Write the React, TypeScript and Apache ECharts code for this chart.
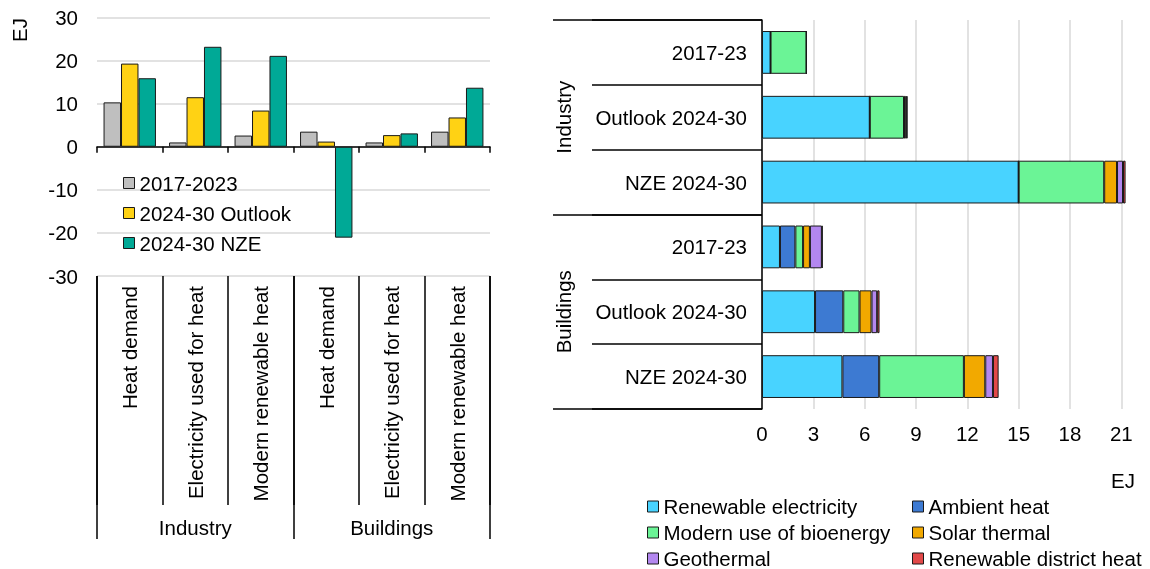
import React, { useEffect, useRef } from 'react';
import * as echarts from 'echarts';

// ---- Left chart data ----
const leftCategories = ['Heat demand', 'Electricity used for heat', 'Modern renewable heat', 'Heat demand', 'Electricity used for heat', 'Modern renewable heat'];
const leftGroups = ['Industry', 'Buildings'];
const leftYTicks = [-30, 30, 10]; // min, max, interval
const hist2017 = [10.3, 1.0, 2.6, 3.5, 1.0, 3.5];
const outlook2430 = [19.3, 11.5, 8.4, 1.2, 2.7, 6.8];
const nze2430 = [15.9, 23.2, 21.1, -21.1, 3.1, 13.7];
const leftSeriesNames = ['2017-2023', '2024-30 Outlook', '2024-30 NZE'];

// ---- Right chart data ----
const rightRows = ['2017-23', 'Outlook 2024-30', 'NZE 2024-30', '2017-23', 'Outlook 2024-30', 'NZE 2024-30'];
const rightGroups = ['Industry', 'Buildings'];
const rightXTicks = [0, 21, 3]; // min, max, interval
const renewElec = [0.5, 6.3, 15.0, 1.05, 3.1, 4.7];
const ambientHeat = [0, 0, 0, 0.9, 1.65, 2.15];
const bioenergy = [2.1, 2.0, 5.0, 0.45, 0.95, 4.95];
const solarThermal = [0, 0.1, 0.75, 0.4, 0.7, 1.25];
const geothermal = [0, 0.05, 0.35, 0.7, 0.33, 0.45];
const districtHeat = [0, 0.05, 0.15, 0.04, 0.14, 0.33];
const rightSeriesNames = ['Renewable electricity', 'Ambient heat', 'Modern use of bioenergy', 'Solar thermal', 'Geothermal', 'Renewable district heat'];

const FONT = "'Liberation Sans', Arial, Helvetica, sans-serif";
const FS = 20.5;
const txt = { fontFamily: FONT, fontSize: FS, color: '#000' };
const black = { color: '#000', width: 1.5 };
const gridLine = { color: '#d9d9d9', width: 1.5 };
const border = { borderColor: '#1a1a1a', borderWidth: 1 };

const leftColors = ['#bfbfbf', '#ffd214', '#00a996'];
const rightColors = ['#48d3ff', '#3d7ad2', '#6bf496', '#f2a900', '#b387ef', '#e24848'];

export default function App() {
  const ref = useRef<HTMLDivElement>(null);
  useEffect(() => {
    const chart = echarts.init(ref.current!, null, { renderer: 'svg' });
    const leftData = [hist2017, outlook2430, nze2430];
    const rightData = [renewElec, ambientHeat, bioenergy, solarThermal, geothermal, districtHeat];
    const legendBase = {
      orient: 'vertical', padding: 0, height: 90,
      itemWidth: 11, itemHeight: 11, icon: 'rect',
      itemStyle: border,
      textStyle: { ...txt, lineHeight: 21 },
    };
    const option: any = {
      animation: false,
      textStyle: { fontFamily: FONT },
      grid: [
        { left: 97, top: 17.5, width: 393, height: 258.5 },
        { left: 762, top: 20, width: 359.3, height: 389 },
      ],
      xAxis: [
        {
          gridIndex: 0, type: 'category', position: 'bottom', data: leftCategories,
          axisLine: { show: true, onZero: true, lineStyle: black },
          axisTick: { show: true, length: 6, interval: 0, lineStyle: black },
          axisLabel: { show: false }, splitLine: { show: false },
        },
        {
          gridIndex: 0, type: 'category', position: 'bottom', data: leftCategories,
          axisLine: { show: false, onZero: false },
          axisTick: { show: true, length: 229, interval: 0, lineStyle: black },
          axisLabel: { interval: 0, rotate: 90, margin: 10, ...txt },
          splitLine: { show: false },
        },
        {
          gridIndex: 0, type: 'category', position: 'bottom', data: leftGroups,
          axisLine: { show: false, onZero: false },
          axisTick: { show: true, length: 263, interval: 0, lineStyle: black },
          axisLabel: { interval: 0, margin: 241, ...txt },
          splitLine: { show: false },
        },
        {
          gridIndex: 1, type: 'value', position: 'bottom',
          min: rightXTicks[0], max: rightXTicks[1], interval: rightXTicks[2],
          axisLine: { show: false, onZero: false }, axisTick: { show: false },
          axisLabel: { margin: 14, ...txt },
          splitLine: { show: true, lineStyle: gridLine },
        },
      ],
      yAxis: [
        {
          gridIndex: 0, type: 'value', position: 'left',
          min: leftYTicks[0], max: leftYTicks[1], interval: leftYTicks[2],
          axisLine: { show: false }, axisTick: { show: false },
          axisLabel: { margin: 19, ...txt },
          splitLine: { show: true, lineStyle: gridLine },
        },
        {
          gridIndex: 1, type: 'category', position: 'left', inverse: true, data: rightRows,
          axisLine: { show: true, onZero: false, lineStyle: black },
          axisTick: { show: true, length: 170, interval: 0, lineStyle: black },
          axisLabel: { interval: 0, margin: 15, ...txt },
          splitLine: { show: false },
        },
        {
          gridIndex: 1, type: 'category', position: 'left', inverse: true, data: rightGroups,
          axisLine: { show: false, onZero: false },
          axisTick: { show: true, length: 209, interval: 0, lineStyle: black },
          axisLabel: { interval: 0, rotate: 90, margin: 188, ...txt },
          splitLine: { show: false },
        },
      ],
      legend: [
        { ...legendBase, data: leftSeriesNames, left: 123, top: 172.5, itemGap: 9 },
        { ...legendBase, data: [rightSeriesNames[0], rightSeriesNames[2], rightSeriesNames[4]], left: 647, top: 496, itemGap: 5 },
        { ...legendBase, data: [rightSeriesNames[1], rightSeriesNames[3], rightSeriesNames[5]], left: 912, top: 496, itemGap: 5 },
      ],
      graphic: [
        {
          type: 'text', x: 19.5, y: 30, rotation: Math.PI / 2,
          style: { text: 'EJ', fill: '#000', fontSize: FS, fontFamily: FONT, align: 'center', verticalAlign: 'middle' },
        },
        {
          type: 'text', x: 1123, y: 480,
          style: { text: 'EJ', fill: '#000', fontSize: FS, fontFamily: FONT, align: 'center', verticalAlign: 'middle' },
        },
      ],
      series: [
        ...leftSeriesNames.map((name, i) => ({
          name, type: 'bar', xAxisIndex: 0, yAxisIndex: 0,
          data: leftData[i], barGap: '0%', barCategoryGap: '20%',
          itemStyle: { color: leftColors[i], ...border },
        })),
        ...rightSeriesNames.map((name, i) => ({
          name, type: 'bar', xAxisIndex: 3, yAxisIndex: 1, stack: 'total',
          data: rightData[i], barCategoryGap: '34%', clip: false,
          itemStyle: { color: rightColors[i], ...border },
        })),
      ],
    };
    chart.setOption(option);
    return () => chart.dispose();
  }, []);
  return <div ref={ref} style={{ position: 'fixed', left: 0, top: 0, width: 1150, height: 569 }} />;
}
